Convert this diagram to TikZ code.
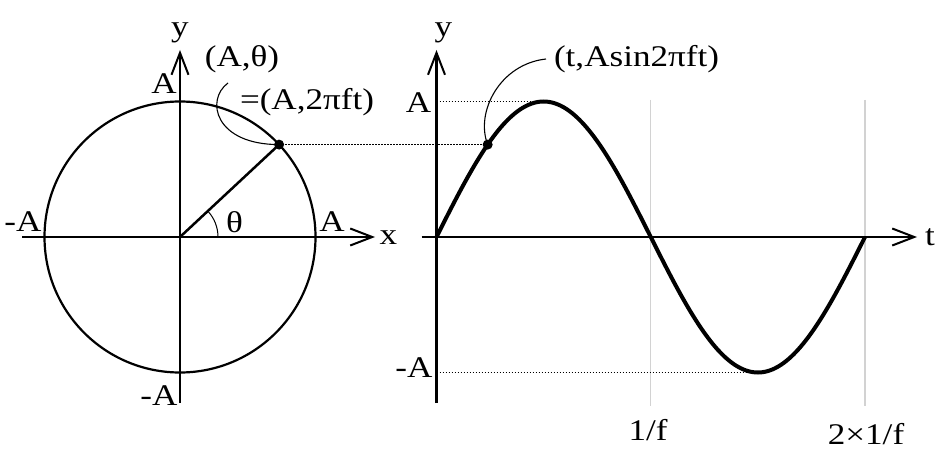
\documentclass[tikz,border=0pt]{standalone}
\usepackage{fontspec}
\setmainfont[FakeStretch=1.17]{Liberation Serif}
\usetikzlibrary{arrows.meta,calc}
\definecolor{gridgray}{HTML}{D2D2D2}
\tikzset{
  axis/.style={line width=2.5pt,-{Straight Barb[length=22pt,width=17pt,line width=2pt]}},
  lbl/.style={inner sep=0pt,font=\fontsize{30}{33}\selectfont},
  guide/.style={line width=1.5pt,dash pattern=on 1.5pt off 1.5pt},
  callout/.style={line width=1.1pt},
  wave/.style={line width=4pt},
  period/.style={draw=gridgray,line width=1.2pt},
  dot/.style={circle,fill=black,inner sep=0pt,minimum size=10pt}
}
\begin{document}
\begin{tikzpicture}[x=1pt,y=1pt]
\useasboundingbox (0,0) rectangle (944,472);
% ---------- left: circle ----------
\coordinate (C) at (180,235);
\coordinate (xs) at (22,235);
\coordinate (xe) at (375,235);
\coordinate (ys) at (180,69);
\coordinate (ye) at (180,422);
\draw[line width=2.2pt] (C) circle[radius=135.5];
\draw[axis] (xs) -- (xe);
\draw[axis] (ys) -- (ye);
\coordinate (P) at ($(C)+(43:135.5)$);
\draw[line width=2.5pt] (C) -- (P);
\draw[line width=1pt] ($(C)+(38,0)$) arc[start angle=0,end angle=43,radius=38];
\node[lbl] (ylab1) at (180,439.5) {y};
\node[lbl] (xlab) at (388.5,234.5) {x};
\node[lbl] (Atop) at (164,388.5) {A};
\node[lbl] (Aleft) at (23,250.5) {-A};
\node[lbl] (Aright) at (332,250.5) {A};
\node[lbl] (Abot) at (159,76) {-A};
\node[lbl] (th) at (234.5,250) {θ};
\node[lbl] (pol) at (242,412.5) {(A,θ)};
\node[lbl] (pol2) at (307,370) {=(A,2πft)};
% ---------- right: sine ----------
\coordinate (O) at (436.5,235);
\coordinate (ts) at (421.7,235);
\coordinate (te) at (917,235);
\coordinate (y2s) at (436.5,69);
\coordinate (y2e) at (436.5,422);
\draw[period] (650.7,372) -- (650.7,66);
\draw[period] (865,372) -- (865,66);
\coordinate (Q) at ({436.5+43/180*214.25},{235+135.5*sin(43)});
\coordinate (pk) at ({436.5+0.5*214.25},370.5);
\coordinate (tr) at ({436.5+1.5*214.25},99.5);
\coordinate (Ay) at (436.5,370.5);
\coordinate (mAy) at (436.5,99.5);
\draw[guide] (P) -- (Q);
\draw[guide] (Ay) -- (pk);
\draw[guide] (mAy) -- (tr);
\draw[axis] (ts) -- (te);
\draw[axis] (y2s) -- (y2e);
\draw[wave] plot[domain=0:360,samples=181,smooth] ({436.5+\x/180*214.25},{235+135.5*sin(\x)});
\node[lbl] (ylab2) at (443.5,439.5) {y};
\node[lbl] (tlab) at (930,234.5) {t};
\node[lbl] (A2) at (418.5,369.5) {A};
\node[lbl] (mA2) at (414,104.5) {-A};
\node[lbl] (f1) at (648,42) {1/f};
\node[lbl] (f2) at (866,38) {2×1/f};
\node[lbl] (sinlab) at (636.5,413) {(t,Asin2πft)};
% ---------- callouts ----------
\coordinate (c1) at (228,389);
\coordinate (c2) at (546,413);
\draw[callout] (c1) .. controls (205,372) and (215,327.4) .. (P);
\draw[callout] (c2) .. controls (500,408) and (475,360) .. (Q);
\node[dot] (Pd) at (P) {};
\node[dot] (Qd) at (Q) {};
\end{tikzpicture}
\end{document}
